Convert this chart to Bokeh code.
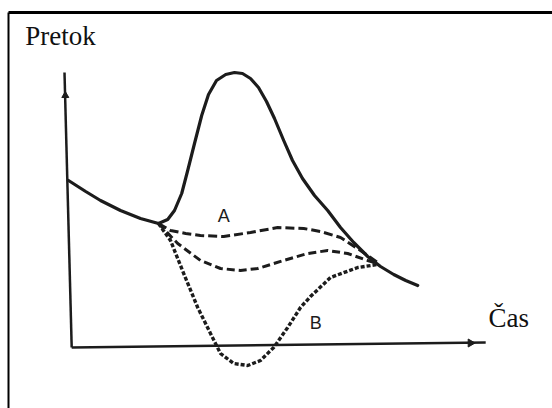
from bokeh.plotting import figure
from bokeh.models import Range1d, Label
from bokeh.embed import file_html
from bokeh.resources import INLINE

# Hydrograph sketch: time (t) vs. discharge (Q), arbitrary units
main_t = [0.0, 0.43, 0.8, 1.3, 1.8, 2.25, 2.48, 2.65, 2.83, 2.98, 3.15, 3.33, 3.5, 3.7,
          3.93, 4.15, 4.35, 4.55, 4.75, 4.95, 5.15, 5.38, 5.6, 5.85, 6.15, 6.48, 6.8,
          7.13, 7.48, 7.8, 8.13, 8.43, 8.73]
main_q = [6.6, 6.16, 5.8, 5.4, 5.08, 4.88, 5.04, 5.4, 6.08, 7.0, 8.08, 9.2, 10.04, 10.6,
          10.84, 10.92, 10.88, 10.68, 10.32, 9.76, 9.08, 8.2, 7.4, 6.68, 6.0, 5.4, 4.72,
          4.12, 3.56, 3.16, 2.84, 2.6, 2.4]

a_t = [2.25, 2.55, 2.93, 3.3, 3.88, 4.55, 5.23, 5.88, 6.3, 6.8, 7.3, 7.73]
a_q = [4.88, 4.6, 4.48, 4.4, 4.36, 4.52, 4.72, 4.68, 4.56, 4.32, 3.8, 3.32]

mid_t = [2.25, 2.73, 3.3, 3.8, 4.3, 4.73, 5.38, 5.98, 6.48, 6.98, 7.48, 7.73]
mid_q = [4.88, 4.08, 3.4, 3.08, 3.0, 3.08, 3.4, 3.68, 3.8, 3.68, 3.4, 3.28]

b_t = [2.25, 2.55, 2.88, 3.23, 3.55, 3.8, 4.13, 4.48, 4.8, 5.13, 5.48, 5.8, 6.05,
       6.55, 7.23, 7.73]
b_q = [4.88, 4.2, 2.88, 1.52, 0.48, -0.32, -0.72, -0.8, -0.6, -0.08, 0.72, 1.52, 1.96,
       2.72, 3.12, 3.24]

y_label = "Pretok"
x_label = "Čas"
curve_labels = ["A", "B"]

INK = "#1c1c1c"

p = figure(width=552, height=408, output_backend="svg", toolbar_location=None,
           x_range=Range1d(-1.7, 12.1), y_range=Range1d(-2.52, 13.8),
           min_border=0, background_fill_color="white", border_fill_color="white")
p.axis.visible = False
p.grid.visible = False
p.outline_line_color = None

# frame box (top and left edges)
x0, y1 = p.x_range.start, p.y_range.end
p.line([x0 + 0.2, p.x_range.end], [y1 - 0.48, y1 - 0.48], line_color="black", line_width=3)
p.line([x0 + 0.2, x0 + 0.2], [y1 - 0.48, p.y_range.start], line_color="black", line_width=2)

# hand-drawn axes
p.line([0.08, -0.1], [-0.08, 10.92], line_color=INK, line_width=2.5)
p.line([0.08, 10.43], [-0.08, 0.12], line_color=INK, line_width=2.5)
p.scatter([-0.08], [10.0], marker="triangle", size=7, fill_color=INK, line_color=INK)
p.scatter([10.05], [0.1], marker="triangle", angle=-1.5708, size=8,
          fill_color=INK, line_color=INK)

# curves
p.line(a_t, a_q, line_color=INK, line_width=3, line_dash="9 4")
p.line(mid_t, mid_q, line_color=INK, line_width=3, line_dash="8 4")
p.line(b_t, b_q, line_color=INK, line_width=3.4, line_dash="4 2")
p.line(main_t, main_q, line_color=INK, line_width=3.2, line_join="round", line_cap="round")

p.add_layout(Label(x=-1.08, y=11.8, text=y_label, text_font="Liberation Serif",
                   text_font_size="27px", text_color="#111111"))
p.add_layout(Label(x=10.5, y=0.5, text=x_label, text_font="Liberation Serif",
                   text_font_size="27px", text_color="#111111"))
p.add_layout(Label(x=3.88, y=5.2, text=curve_labels[0], text_font="Liberation Sans",
                   text_font_size="18px", text_color=INK, text_align="center",
                   text_baseline="middle"))
p.add_layout(Label(x=6.18, y=0.92, text=curve_labels[1], text_font="Liberation Sans",
                   text_font_size="18px", text_color=INK, text_align="center",
                   text_baseline="middle"))

open("out.html", "w").write(file_html(p, INLINE))
